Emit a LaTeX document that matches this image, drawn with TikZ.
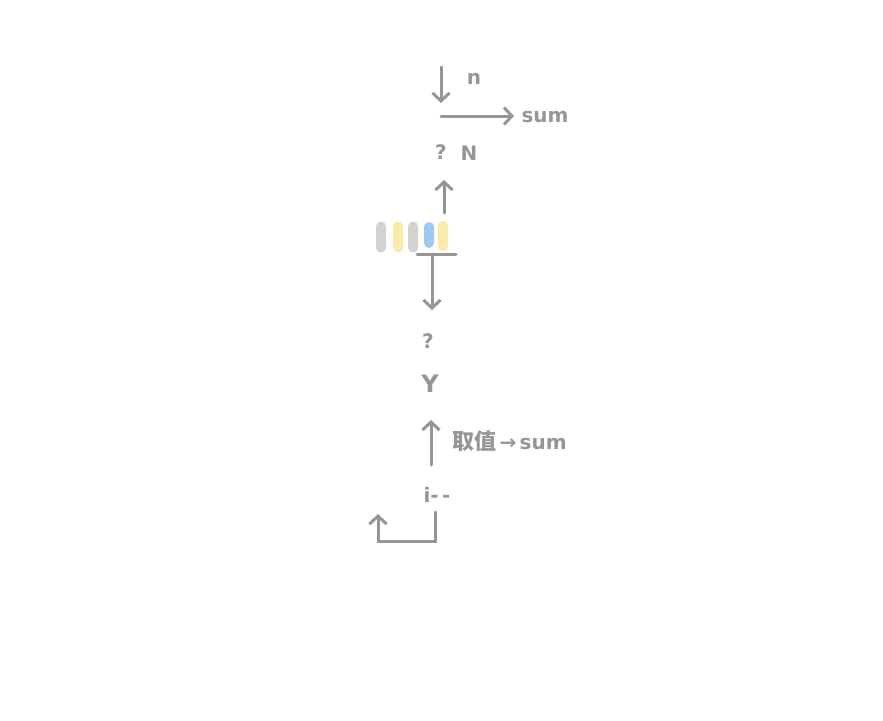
\documentclass[tikz,border=0pt]{standalone}
\usepackage{fontspec}
\setmainfont{DejaVu Sans}
\newfontfamily\cjk{Noto Sans CJK SC}
\usetikzlibrary{arrows.meta}
\definecolor{ink}{RGB}{150,150,150}
\definecolor{pgray}{RGB}{210,210,210}
\definecolor{pyellow}{RGB}{250,235,170}
\definecolor{pblue}{RGB}{160,200,245}
\begin{document}
\begin{tikzpicture}[x=1pt,y=-1pt,
  conn/.style={draw=ink,line width=3pt,line cap=round,-{Straight Barb[length=8pt,width=17pt,line width=3pt]}},
  plain/.style={draw=ink,line width=3pt,line cap=round},
  lbl/.style={text=ink,font=\bfseries\fontsize{20}{22}\selectfont,inner sep=0pt},
  pill/.style={draw=none,rounded corners=5pt,minimum width=10pt,minimum height=31pt,inner sep=0pt}]
\useasboundingbox[fill=white] (0,0) rectangle (883,720);
% top
\coordinate (a1s) at (441,67); \coordinate (a1e) at (441,103);
\draw[conn] (a1s) -- (a1e);
\node[lbl] (n) at (474,79) {n};
\coordinate (a2s) at (441,116); \coordinate (a2e) at (514,116);
\draw[conn] (a2s) -- (a2e);
\node[lbl] (sum1) at (545,117) {sum};
\node[lbl] (q1) at (441,152) {?};
\node[lbl] (N) at (469,153) {N};
\coordinate (a3s) at (444,213); \coordinate (a3e) at (444,180);
\draw[conn] (a3s) -- (a3e);
% pills
\node[pill,fill=pgray] (p1) at (381,237) {};
\node[pill,fill=pyellow] (p2) at (398,237) {};
\node[pill,fill=pgray] (p3) at (413,237) {};
\node[pill,fill=pblue,minimum height=26pt] (p4) at (429,235) {};
\node[pill,fill=pyellow] (p5) at (443,236) {};
\coordinate (barL) at (417,254); \coordinate (barR) at (456,254);
\draw[plain] (barL) -- (barR);
\coordinate (a4s) at (432,254); \coordinate (a4e) at (432,310);
\draw[conn] (a4s) -- (a4e);
\node[lbl] (q2) at (428,341) {?};
\node[lbl,font=\bfseries\fontsize{24}{26}\selectfont] (Y) at (430,384) {Y};
\coordinate (a5s) at (431,465); \coordinate (a5e) at (431,420);
\draw[conn] (a5s) -- (a5e);
\node[lbl,anchor=west] (take) at (452,441) {{\cjk\bfseries\fontsize{22}{24}\selectfont 取值}\,→\,sum};
\node[lbl] (idec) at (437,495) {i-\,-};
\coordinate (l1) at (435,512); \coordinate (l2) at (435,541);
\coordinate (l3) at (378,541); \coordinate (l4) at (378,514);
\draw[conn] (l1) -- (l2) -- (l3) -- (l4);
\end{tikzpicture}
\end{document}
